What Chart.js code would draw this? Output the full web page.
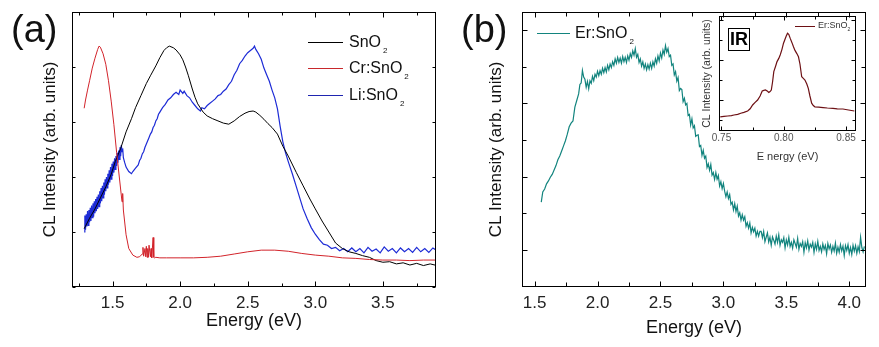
<!DOCTYPE html>
<html>
<head>
<meta charset="utf-8">
<script src="https://cdn.jsdelivr.net/npm/chart.js@4.4.1/dist/chart.umd.min.js"></script>
<style>
  body { margin: 0; background: #fff; font-family: 'Liberation Sans', Arial, sans-serif; }
  #wrap { position: relative; width: 879px; height: 347px; overflow: hidden; background: #fff; }
  canvas { position: absolute; }
  .txt { position: absolute; white-space: nowrap; color: #111; }
  .panel { font-size: 38px; line-height: 38px; }
  .leg { font-size: 16px; line-height: 16px; }
  .leg i { font-style: normal; font-size: 8px; position: relative; top: 6px; margin-left: 2px; }
  .line { position: absolute; height: 0; border-top: 1px solid #000; }
  #irbox { position: absolute; left: 728px; top: 28px; width: 20px; height: 21px; border: 1px solid #000;
           font-weight: bold; font-size: 18px; line-height: 21px; text-align: center; }
</style>
</head>
<body>
<div id="wrap">
  <canvas id="chartA" width="440" height="347" style="left:0;top:0"></canvas>
  <canvas id="chartB" width="439" height="347" style="left:440px;top:0"></canvas>
  <canvas id="chartIR" width="180" height="160" style="left:690px;top:5px"></canvas>

  <div class="txt panel" style="left:11px;top:10px">(a)</div>
  <div class="txt panel" style="left:461px;top:10px">(b)</div>

  <div class="line" style="left:308px;top:42px;width:35px;border-color:#000"></div>
  <div class="txt leg" style="left:349px;top:34px">SnO<i>2</i></div>
  <div class="line" style="left:308px;top:68px;width:35px;border-color:#c8282c"></div>
  <div class="txt leg" style="left:349px;top:60px">Cr:SnO<i>2</i></div>
  <div class="line" style="left:308px;top:95px;width:35px;border-color:#1f25b0"></div>
  <div class="txt leg" style="left:349px;top:87px">Li:SnO<i>2</i></div>

  <div class="line" style="left:537px;top:33px;width:33px;border-color:#12847e"></div>
  <div class="txt leg" style="left:575px;top:25px">Er:SnO<i>2</i></div>

  <div id="irbox">IR</div>
  <div class="line" style="left:795px;top:26px;width:20px;border-color:#6d1014"></div>
  <div class="txt" style="left:818px;top:21px;font-size:9px;line-height:9px;color:#333">Er:SnO<i style="font-style:normal;font-size:5px;position:relative;top:3px">2</i></div>
</div>

<script>
// panel (a): energy (eV) and intensity (arb. units)
const snoE = [1.29,1.33,1.37,1.41,1.45,1.49,1.52,1.56,1.6,1.64,1.67,1.71,1.75,1.78,1.82,1.85,1.88,1.9,1.92,1.95,1.97,2.0,2.02,2.04,2.06,2.09,2.11,2.13,2.17,2.2,2.24,2.28,2.32,2.36,2.4,2.44,2.48,2.51,2.54,2.56,2.59,2.62,2.65,2.68,2.72,2.76,2.8,2.86,2.91,2.96,3.0,3.05,3.1,3.15,3.2,3.25,3.3,3.35,3.4,3.45,3.5,3.55,3.6,3.65,3.7,3.75,3.8,3.85,3.9]
const snoI = [0.66,0.85,1.02,1.22,1.42,1.65,1.88,2.12,2.42,2.66,2.86,3.08,3.3,3.44,3.62,3.77,3.9,3.95,3.98,3.95,3.91,3.82,3.73,3.6,3.45,3.2,3.05,2.93,2.78,2.71,2.66,2.62,2.58,2.56,2.62,2.7,2.76,2.79,2.8,2.78,2.72,2.65,2.57,2.5,2.38,2.16,1.98,1.68,1.44,1.2,1.02,0.8,0.6,0.4,0.3,0.24,0.21,0.17,0.14,0.08,0.05,0.06,0.02,0.04,0.0,0.03,-0.01,0.02,-0.01]

const crE = [1.29,1.3,1.315,1.33,1.35,1.37,1.39,1.4,1.41,1.43,1.45,1.47,1.49,1.51,1.53,1.55,1.57,1.575,1.58,1.6,1.62,1.65,1.68,1.7,1.72,1.725,1.73,1.74,1.745,1.75,1.755,1.76,1.765,1.77,1.78,1.785,1.79,1.8,1.805,1.81,1.82,1.85,1.9,2.0,2.1,2.2,2.3,2.4,2.5,2.6,2.7,2.8,2.9,3.0,3.1,3.2,3.3,3.4,3.5,3.6,3.7,3.8,3.9]
const crI = [2.85,3.0,3.18,3.35,3.58,3.76,3.92,3.98,3.96,3.84,3.65,3.35,2.98,2.55,2.05,1.6,1.15,1.3,1.0,0.55,0.3,0.18,0.14,0.15,0.2,0.32,0.16,0.3,0.15,0.34,0.14,0.3,0.14,0.36,0.15,0.3,0.13,0.5,0.14,0.13,0.14,0.13,0.13,0.13,0.13,0.14,0.16,0.2,0.24,0.27,0.27,0.25,0.21,0.18,0.16,0.13,0.12,0.1,0.09,0.09,0.08,0.09,0.09]

const liE = [1.29,1.295,1.3,1.305,1.31,1.315,1.32,1.325,1.33,1.335,1.34,1.345,1.35,1.355,1.36,1.365,1.37,1.375,1.38,1.385,1.39,1.395,1.4,1.405,1.41,1.415,1.42,1.425,1.43,1.435,1.44,1.445,1.45,1.455,1.46,1.465,1.47,1.475,1.48,1.485,1.49,1.495,1.5,1.505,1.51,1.515,1.52,1.525,1.53,1.535,1.54,1.545,1.55,1.555,1.56,1.565,
    1.57,1.575,1.58,1.59,1.6,1.62,1.64,1.65,1.67,1.69,1.7,1.71,1.72,1.73,1.74,1.75,1.76,1.77,1.78,1.79,1.8,1.81,1.82,1.83,1.84,1.85,1.87,1.89,1.91,1.93,1.95,1.97,1.99,2.0,2.02,2.03,2.05,2.07,2.09,2.11,2.13,2.15,2.16,2.18,2.2,2.22,2.24,2.26,2.28,2.3,2.32,2.34,2.36,2.38,2.4,2.42,2.44,2.46,2.48,2.5,2.52,2.54,2.55,2.56,2.58,2.6,2.62,2.64,2.66,2.68,2.7,2.72,2.74,2.76,2.78,2.8,2.83,2.86,2.89,2.91,2.94,2.97,3.0,3.03,3.06,3.09,3.12,3.15,3.18,3.21,3.24,3.27,3.3,3.33,3.36,3.39,3.42,3.45,3.48,3.51,3.54,3.57,3.6,3.63,3.66,3.69,3.72,3.75,3.78,3.81,3.84,3.87,3.9]
const liI = [0.6,0.9,0.64,0.92,0.7,0.98,0.72,1.0,0.78,1.04,0.8,1.08,0.86,1.12,0.88,1.16,0.94,1.2,0.98,1.24,1.02,1.28,1.06,1.34,1.12,1.4,1.16,1.44,1.22,1.5,1.28,1.56,1.34,1.6,1.4,1.66,1.46,1.72,1.5,1.78,1.56,1.84,1.62,1.88,1.68,1.94,1.74,1.98,1.8,2.04,1.86,2.08,1.92,2.14,1.98,2.18,
    2.06,2.12,1.95,1.86,1.78,1.7,1.66,1.7,1.76,1.82,1.9,1.94,2.02,2.06,2.14,2.2,2.26,2.32,2.38,2.42,2.5,2.54,2.62,2.66,2.74,2.78,2.86,2.92,3.0,3.04,3.1,3.14,3.1,3.18,3.12,3.16,3.08,3.04,2.96,2.9,2.84,2.8,2.86,2.84,2.9,2.94,2.98,3.02,3.08,3.1,3.16,3.2,3.28,3.34,3.46,3.54,3.66,3.72,3.8,3.86,3.9,3.94,3.98,3.92,3.84,3.74,3.58,3.46,3.34,3.18,3.04,2.84,2.52,2.24,2.04,1.88,1.66,1.42,1.18,1.02,0.84,0.68,0.56,0.46,0.38,0.36,0.3,0.32,0.26,0.3,0.24,0.31,0.24,0.3,0.22,0.32,0.25,0.29,0.22,0.33,0.25,0.3,0.22,0.31,0.24,0.3,0.23,0.32,0.24,0.3,0.23,0.31,0.26]

// panel (b)
const erE = [1.553,1.565,1.58,1.595,1.61,1.625,1.64,1.655,1.67,1.685,1.7,1.715,1.73,1.745,1.76,1.775,1.79,1.805,1.82,1.835,
    1.85,1.86,1.87,1.88,1.89,1.9,1.91,1.92,1.93,1.94,1.95,1.96,1.97,1.98,1.99,2.0,2.01,2.02,2.03,2.04,2.05,2.06,2.07,2.08,2.09,2.1,2.11,2.12,2.13,2.14,2.15,2.16,2.17,2.18,2.19,2.2,2.21,2.22,2.23,2.24,2.25,2.26,2.27,2.28,2.29,2.3,2.31,2.32,2.33,2.34,2.35,2.36,2.37,2.38,2.39,2.4,2.41,2.42,2.43,2.44,2.45,2.46,2.47,2.48,2.49,2.5,2.51,2.52,2.53,2.54,2.55,2.56,2.57,2.58,2.59,
    2.6,2.61,2.62,2.63,2.64,2.65,2.66,2.67,2.68,2.69,2.7,2.71,2.72,2.73,2.74,2.75,2.76,2.77,2.78,2.79,2.8,2.81,2.82,2.83,2.84,2.85,2.86,2.87,2.88,2.89,2.9,2.91,2.92,2.93,2.94,2.95,2.96,2.97,2.98,2.99,3.0,3.01,3.02,3.03,3.04,3.05,3.06,3.07,3.08,3.09,3.1,3.11,3.12,3.13,3.14,3.15,3.16,3.17,3.18,3.19,3.2,3.21,3.22,3.23,3.24,3.25,3.26,3.27,3.28,3.29,
    3.3,3.31,3.32,3.33,3.34,3.35,3.36,3.37,3.38,3.39,3.4,3.41,3.42,3.43,3.44,3.45,3.46,3.47,3.48,3.49,3.5,3.51,3.52,3.53,3.54,3.55,3.56,3.57,3.58,3.59,3.6,3.61,3.62,3.63,3.64,3.65,3.66,3.67,3.68,3.69,3.7,3.71,3.72,3.73,3.74,3.75,3.76,3.77,3.78,3.79,3.8,3.81,3.82,3.83,3.84,3.85,3.86,3.87,3.88,3.89,3.9,3.91,3.92,3.93,3.94,3.95,3.96,3.97,3.98,3.99,4.0,4.01,4.02,4.03,4.04,4.05,4.06,4.07,4.08,4.09,4.1,4.11,4.12]
const erI = [1.3,1.58,1.66,1.8,1.88,1.98,2.06,2.18,2.3,2.46,2.56,2.7,2.84,2.98,3.16,3.36,3.46,3.52,3.9,4.08,
    4.26,4.52,4.56,4.9,4.72,4.66,4.44,4.6,4.4,4.62,4.55,4.74,4.62,4.8,4.72,4.88,4.76,4.9,4.8,4.96,4.84,4.98,4.86,5.04,4.92,5.08,4.98,5.14,5.04,5.22,5.1,5.26,5.12,5.24,5.1,5.28,5.14,5.26,5.12,5.3,5.18,5.36,5.26,5.44,5.32,5.5,5.26,5.34,5.12,5.22,5.02,5.14,4.96,5.08,4.92,5.06,4.94,5.1,4.96,5.14,5.02,5.22,5.1,5.3,5.16,5.38,5.24,5.46,5.34,5.58,5.4,5.5,5.28,5.32,5.04,
    5.08,4.78,4.87,4.61,4.71,4.35,4.41,4.38,4.05,4.14,3.96,4.0,3.67,3.7,3.41,3.58,3.33,3.39,3.1,3.13,3.14,2.82,2.85,2.58,2.72,2.5,2.56,2.25,2.35,2.17,2.33,2.04,2.11,1.92,2.11,1.93,2.03,1.74,1.86,1.67,1.81,1.6,1.45,1.58,1.4,1.51,1.24,1.3,1.09,1.26,1.04,1.19,0.92,1.01,0.81,0.96,0.81,0.9,0.64,0.74,0.59,0.73,0.46,0.61,0.49,0.59,0.37,0.5,0.37,0.5,
    0.5,0.33,0.5,0.22,0.34,0.46,0.21,0.34,0.12,0.35,0.26,0.15,0.37,0.2,0.41,0.12,0.27,0.2,0.33,0.05,0.27,0.13,0.34,0.09,0.2,0.04,0.27,0.17,0.07,0.31,0.01,0.17,0.09,0.22,-0.07,0.19,0.05,0.24,-0.01,0.15,0.07,0.2,-0.07,0.16,0.01,0.23,-0.02,0.09,-0.06,0.16,0.01,0.12,-0.11,0.17,0.02,0.13,-0.07,0.09,-0.04,0.18,-0.1,0.07,-0.07,0.14,-0.03,0.1,-0.16,0.11,-0.02,0.14,-0.1,0.06,-0.13,0.12,-0.04,0.11,-0.1,0.08,-0.05,0.34,0.06,-0.06,0.09]

// inset (IR)
const irE = [0.749,0.752,0.755,0.758,0.76,0.763,0.7655,0.768,0.771,0.773,0.775,0.777,0.779,0.781,0.7827,0.784,0.7853,0.787,0.788,0.789,0.79,0.791,0.792,0.7935,0.7946,0.796,0.7972,0.7985,0.7998,0.801,0.802,0.803,0.804,0.8052,0.8065,0.8078,0.809,0.8105,0.8118,0.813,0.8144,0.8157,0.817,0.8185,0.8197,0.821,0.8224,0.8237,0.825,0.828,0.8316,0.835,0.8395,0.843,0.8475,0.852,0.8567]
const irI = [0.58,0.59,0.6,0.61,0.625,0.64,0.67,0.69,0.725,0.78,0.875,0.94,1.0,1.1,1.225,1.24,1.25,1.22,1.19,1.21,1.25,1.45,1.71,1.85,1.96,2.04,2.13,2.26,2.42,2.52,2.6,2.67,2.64,2.54,2.44,2.33,2.24,2.16,2.08,1.9,1.58,1.54,1.5,1.4,1.29,1.1,0.92,0.86,0.83,0.82,0.81,0.8,0.79,0.78,0.775,0.75,0.725]

Chart.defaults.font.family = "'Liberation Sans', Arial, sans-serif"
Chart.defaults.color = '#111'

function pts(xs, ys) {
    return xs.map((x, i) => ({ x: x, y: ys[i] }))
}

function line(data, color, w) {
    return { data: data, borderColor: color, borderWidth: w, showLine: true, pointRadius: 0, tension: 0, fill: false }
}

// frame round the plot with inward ticks on all four sides
const boxTicks = {
    id: 'boxTicks',
    afterDatasetsDraw(chart, args, o) {
        const ctx = chart.ctx, a = chart.chartArea
        const xs = chart.scales.x, ys = chart.scales.y
        const L = Math.round(a.left) + 0.5, R = Math.round(a.right) - 0.5
        const T = Math.round(a.top) + 0.5, B = Math.round(a.bottom) - 0.5
        const major = (v, m) => Math.abs(v / m - Math.round(v / m)) < 1e-6
        ctx.save()
        ctx.strokeStyle = '#000'
        ctx.lineWidth = 1
        ctx.strokeRect(L, T, R - L, B - T)
        ctx.beginPath()
        for (const t of xs.ticks) {
            const p = Math.round(xs.getPixelForValue(t.value)) + 0.5
            const len = major(t.value, o.xMajor) ? o.long : o.short
            ctx.moveTo(p, B); ctx.lineTo(p, B - len)
            ctx.moveTo(p, T); ctx.lineTo(p, T + len)
        }
        for (const t of ys.ticks) {
            const p = Math.round(ys.getPixelForValue(t.value)) + 0.5
            const len = major(t.value, o.yMajor) ? o.long : o.short
            ctx.moveTo(L, p); ctx.lineTo(L + len, p)
            ctx.moveTo(R, p); ctx.lineTo(R - len, p)
        }
        ctx.stroke()
        ctx.restore()
    }
}

function halfLabel(v) {
    return Math.abs(v * 2 - Math.round(v * 2)) < 1e-6 ? v.toFixed(1) : ''
}

function opts(cfg) {
    return {
        responsive: false,
        animation: false,
        layout: { padding: cfg.pad },
        plugins: {
            legend: { display: false },
            tooltip: { enabled: false },
            boxTicks: cfg.ticks
        },
        scales: {
            x: {
                type: 'linear', min: cfg.xMin, max: cfg.xMax,
                grid: { display: false, drawTicks: false }, border: { display: false },
                ticks: { stepSize: cfg.xStep, includeBounds: false, autoSkip: false, maxRotation: 0,
                         padding: cfg.tickPad, color: cfg.tickColor, font: { size: cfg.tickSize }, callback: cfg.xLabel },
                title: { display: true, text: cfg.xTitle, font: { size: cfg.titleSize }, color: cfg.titleColor,
                         padding: { top: 0, bottom: cfg.xTitlePad } },
                afterFit: s => { s.height = cfg.xH }
            },
            y: {
                type: 'linear', min: cfg.yMin, max: cfg.yMax,
                grid: { display: false, drawTicks: false }, border: { display: false },
                ticks: { stepSize: cfg.yStep, includeBounds: false, display: false },
                title: { display: true, text: 'CL Intensity (arb. units)', font: { size: cfg.yTitleSize }, color: cfg.titleColor,
                         padding: { top: cfg.yTitlePad, bottom: 0 } },
                afterFit: s => { s.width = cfg.yW }
            }
        }
    }
}

new Chart(document.getElementById('chartA'), {
    type: 'scatter',
    data: { datasets: [
        line(pts(crE, crI), '#d2232a', 1),
        line(pts(snoE, snoI), '#000000', 1),
        line(pts(liE, liI), '#1d2bd6', 1.2)
    ] },
    options: opts({
        pad: { top: 12, right: 4, left: 0, bottom: 0 },
        xMin: 1.2, xMax: 3.893, xStep: 0.25, xLabel: halfLabel,
        yMin: -0.4, yMax: 4.6, yStep: 1,
        xH: 60, yW: 72, tickPad: 6, tickSize: 17, tickColor: '#222',
        xTitle: 'Energy (eV)', titleSize: 18, titleColor: '#111', xTitlePad: 15,
        yTitleSize: 17, yTitlePad: 40,
        ticks: { xMajor: 0.5, yMajor: 1, long: 5, short: 3 }
    }),
    plugins: [boxTicks]
})

new Chart(document.getElementById('chartB'), {
    type: 'scatter',
    data: { datasets: [ line(pts(erE, erI), '#12847e', 1.2) ] },
    options: opts({
        pad: { top: 12, right: 13, left: 0, bottom: 0 },
        xMin: 1.4, xMax: 4.133, xStep: 0.25, xLabel: halfLabel,
        yMin: -1.02, yMax: 6.5, yStep: 1,
        xH: 60, yW: 82, tickPad: 6, tickSize: 17, tickColor: '#222',
        xTitle: 'Energy (eV)', titleSize: 18, titleColor: '#111', xTitlePad: 8,
        yTitleSize: 17, yTitlePad: 46,
        ticks: { xMajor: 0.5, yMajor: 2, long: 5, short: 4 }
    }),
    plugins: [boxTicks]
})

new Chart(document.getElementById('chartIR'), {
    type: 'scatter',
    data: { datasets: [ line(pts(irE, irI), '#6d1014', 1.2) ] },
    options: opts({
        pad: { top: 11, right: 14, left: 0, bottom: 0 },
        xMin: 0.748, xMax: 0.858, xStep: 0.025,
        xLabel: v => Math.abs(v * 20 - Math.round(v * 20)) < 1e-6 ? v.toFixed(2) : '',
        yMin: 0.225, yMax: 3.1, yStep: 0.5,
        xH: 34, yW: 29, tickPad: 1, tickSize: 10, tickColor: '#555',
        xTitle: 'E nergy (eV)', titleSize: 11, titleColor: '#333', xTitlePad: 1,
        yTitleSize: 10.5, yTitlePad: 11,
        ticks: { xMajor: 0.05, yMajor: 1, long: 4, short: 3 }
    }),
    plugins: [boxTicks]
})
</script>
</body>
</html>
